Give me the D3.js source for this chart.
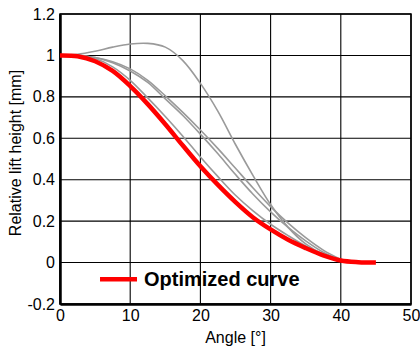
<!DOCTYPE html>
<html>
<head>
<meta charset="utf-8">
<script src="https://cdn.jsdelivr.net/npm/d3@7"></script>
<style>
  body { margin: 0; background: #fff; }
  svg { display: block; font-family: "Liberation Sans", Arial, sans-serif; }
</style>
</head>
<body>
<svg id="chart" width="420" height="350"></svg>
<script>
// chart data
var angles = [0, 2.5, 5, 7.5, 10, 12.5, 15, 17.5, 20, 22.5, 25, 27.5, 30, 32.5, 35, 37.5, 40];
var optAngles = [0, 2.5, 5, 7.5, 10, 12.5, 15, 17.5, 20, 22.5, 25, 27.5, 30, 32.5, 35, 37.5, 40, 42.5, 45];

var optimized = [1, 0.996, 0.972, 0.925, 0.852, 0.765, 0.668, 0.565, 0.465, 0.375, 0.292, 0.218, 0.16, 0.11, 0.07, 0.035, 0.01, 0.002, 0];
var trial1 = [1, 1.005, 1.02, 1.04, 1.055, 1.058, 1.04, 0.975, 0.865, 0.73, 0.57, 0.42, 0.28, 0.17, 0.09, 0.04, 0.01];
var trial2 = [1, 1.0, 0.99, 0.97, 0.935, 0.88, 0.805, 0.725, 0.64, 0.55, 0.455, 0.36, 0.27, 0.19, 0.12, 0.06, 0.015];
var trial3 = [1, 1.0, 0.99, 0.965, 0.925, 0.87, 0.79, 0.71, 0.62, 0.525, 0.425, 0.33, 0.245, 0.17, 0.105, 0.05, 0.012];
var trial4 = [1, 1.0, 0.985, 0.945, 0.88, 0.795, 0.705, 0.61, 0.51, 0.415, 0.325, 0.25, 0.185, 0.13, 0.08, 0.04, 0.01];

var xTicks = [0, 10, 20, 30, 40, 50];
var yTicks = [-0.2, 0, 0.2, 0.4, 0.6, 0.8, 1, 1.2];

var svg = d3.select("#chart"),
    margin = {top: 14, right: 9, bottom: 46, left: 60},
    width = +svg.attr("width") - margin.left - margin.right,
    height = +svg.attr("height") - margin.top - margin.bottom,
    g = svg.append("g").attr("transform", "translate(" + margin.left + "," + margin.top + ")");

var x = d3.scaleLinear().domain([0, 50]).range([0, width]),
    y = d3.scaleLinear().domain([-0.2, 1.2]).range([height, 0]);

// grid
g.append("g")
    .selectAll("line")
    .data(xTicks)
    .enter().append("line")
    .attr("x1", function(d) { return x(d); })
    .attr("x2", function(d) { return x(d); })
    .attr("y1", 0)
    .attr("y2", height)
    .attr("stroke", "#000")
    .attr("stroke-width", 1.1);

g.append("g")
    .selectAll("line")
    .data(yTicks)
    .enter().append("line")
    .attr("x1", 0)
    .attr("x2", width)
    .attr("y1", function(d) { return y(d); })
    .attr("y2", function(d) { return y(d); })
    .attr("stroke", "#000")
    .attr("stroke-width", 1.1);

// box
g.append("rect")
    .attr("width", width)
    .attr("height", height)
    .attr("fill", "none")
    .attr("stroke", "#000")
    .attr("stroke-width", 1.5);

// axes
var fmt = function(d) { return d === 0 ? "0" : String(+d.toFixed(1)); };

var xAxis = g.append("g")
    .attr("transform", "translate(0," + height + ")")
    .call(d3.axisBottom(x).tickValues(xTicks).tickSize(0).tickPadding(6).tickFormat(fmt));
var yAxis = g.append("g")
    .call(d3.axisLeft(y).tickValues(yTicks).tickSize(0).tickPadding(5).tickFormat(fmt));

[xAxis, yAxis].forEach(function(a) {
    a.select(".domain").attr("stroke", "#000").attr("stroke-width", 2.5);
    a.selectAll("text").attr("font-size", 16).attr("fill", "#000")
        .attr("font-family", "'Liberation Sans', Arial, sans-serif");
});

// axis titles
g.append("text")
    .attr("x", width / 2)
    .attr("y", height + 39)
    .attr("text-anchor", "middle")
    .attr("font-size", 16)
    .text("Angle [\u00b0]");

g.append("text")
    .attr("transform", "rotate(-90)")
    .attr("x", -height / 2 + 6)
    .attr("y", -39)
    .attr("text-anchor", "middle")
    .attr("font-size", 16)
    .text("Relative lift height [mm]");

// curves
var line = d3.line()
    .x(function(d) { return x(d[0]); })
    .y(function(d) { return y(d[1]); })
    .curve(d3.curveCatmullRom.alpha(0.5));

var trials = [trial1, trial2, trial3, trial4];
g.append("g")
    .selectAll("path")
    .data(trials)
    .enter().append("path")
    .attr("d", function(vals) { return line(d3.zip(angles, vals)); })
    .attr("fill", "none")
    .attr("stroke", "#9a9a9a")
    .attr("stroke-width", 1.6);

g.append("path")
    .attr("d", line(d3.zip(optAngles, optimized)))
    .attr("fill", "none")
    .attr("stroke", "#ff0000")
    .attr("stroke-width", 4.5);

// legend
var legend = g.append("g").attr("transform", "translate(" + x(5.7) + "," + y(-0.08) + ")");
legend.append("line")
    .attr("x1", 0).attr("x2", 37)
    .attr("stroke", "#ff0000")
    .attr("stroke-width", 4.5);
legend.append("text")
    .attr("x", 44)
    .attr("y", 7)
    .attr("font-size", 20)
    .attr("font-weight", "bold")
    .text("Optimized curve");
</script>
</body>
</html>
